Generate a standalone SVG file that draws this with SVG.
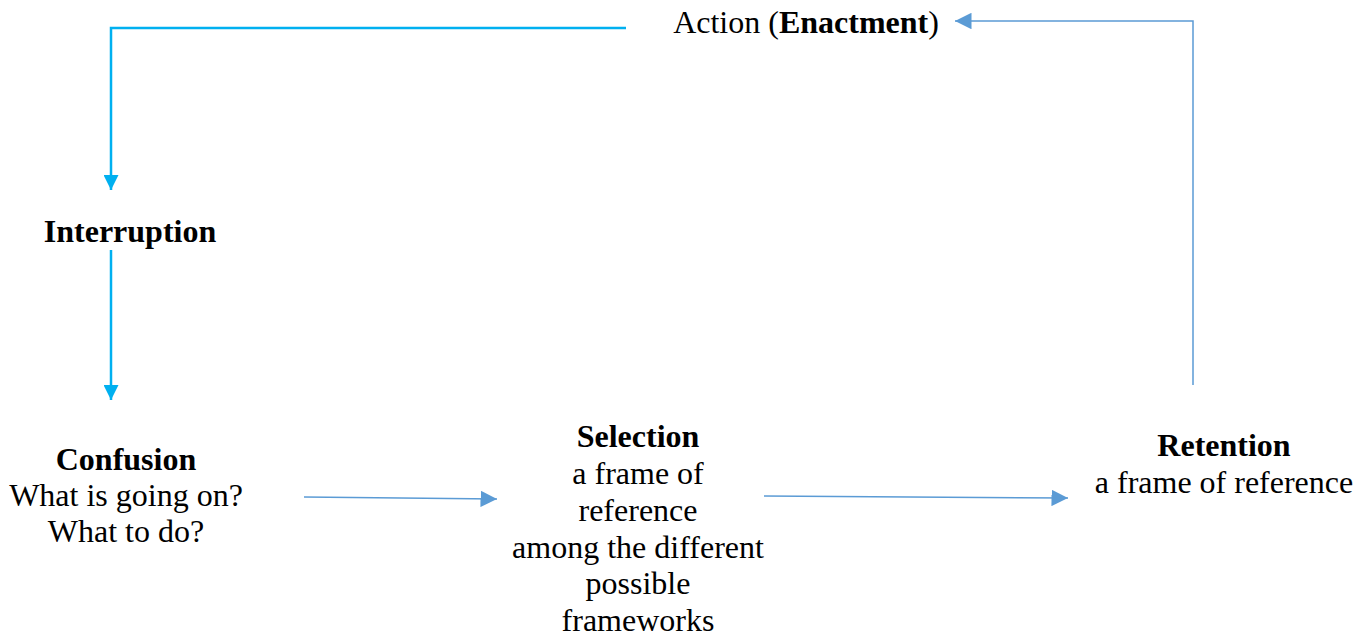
<svg xmlns="http://www.w3.org/2000/svg" width="1369" height="639" viewBox="0 0 1369 639">
<style>
text{font-family:"Liberation Serif","Times New Roman",serif;font-size:32px;fill:#000;text-anchor:middle}
.b{font-weight:bold}
.cy{fill:none;stroke:#00B0F0;stroke-width:2.5}
.bl{fill:none;stroke:#5B9BD5;stroke-width:1.5}
</style>
<defs>
<marker id="ac" viewBox="0 0 10 10" refX="10" refY="5" markerWidth="6" markerHeight="6" markerUnits="strokeWidth" orient="auto"><path d="M0,0L10,5L0,10z" fill="#00B0F0"/></marker>
<marker id="ab" viewBox="0 0 10 10" refX="10" refY="5" markerWidth="11" markerHeight="11" markerUnits="strokeWidth" orient="auto"><path d="M0,0L10,5L0,10z" fill="#5B9BD5"/></marker>
</defs>
<g id="connectors">
<path class="cy" d="M626,28H111V190" marker-end="url(#ac)"/>
<path class="cy" d="M111,250V400" marker-end="url(#ac)"/>
<path class="bl" d="M304,497L497,499" marker-end="url(#ab)"/>
<path class="bl" d="M764,496L1068,498" marker-end="url(#ab)"/>
<path class="bl" d="M1193,385V21H955" marker-end="url(#ab)"/>
</g>
<g id="action"><text x="806" y="33">Action (<tspan class="b">Enactment</tspan>)</text></g>
<g id="interruption"><text class="b" x="130" y="242">Interruption</text></g>
<g id="confusion"><text class="b" x="126" y="470">Confusion</text><text x="126" y="506">What is going on?</text><text x="126" y="542">What to do?</text></g>
<g id="selection"><text class="b" x="638" y="447">Selection</text><text x="638" y="484">a frame of</text><text x="638" y="521">reference</text><text x="638" y="558">among the different</text><text x="638" y="594">possible</text><text x="638" y="631">frameworks</text></g>
<g id="retention"><text class="b" x="1224" y="456">Retention</text><text x="1224" y="493">a frame of reference</text></g>
</svg>
